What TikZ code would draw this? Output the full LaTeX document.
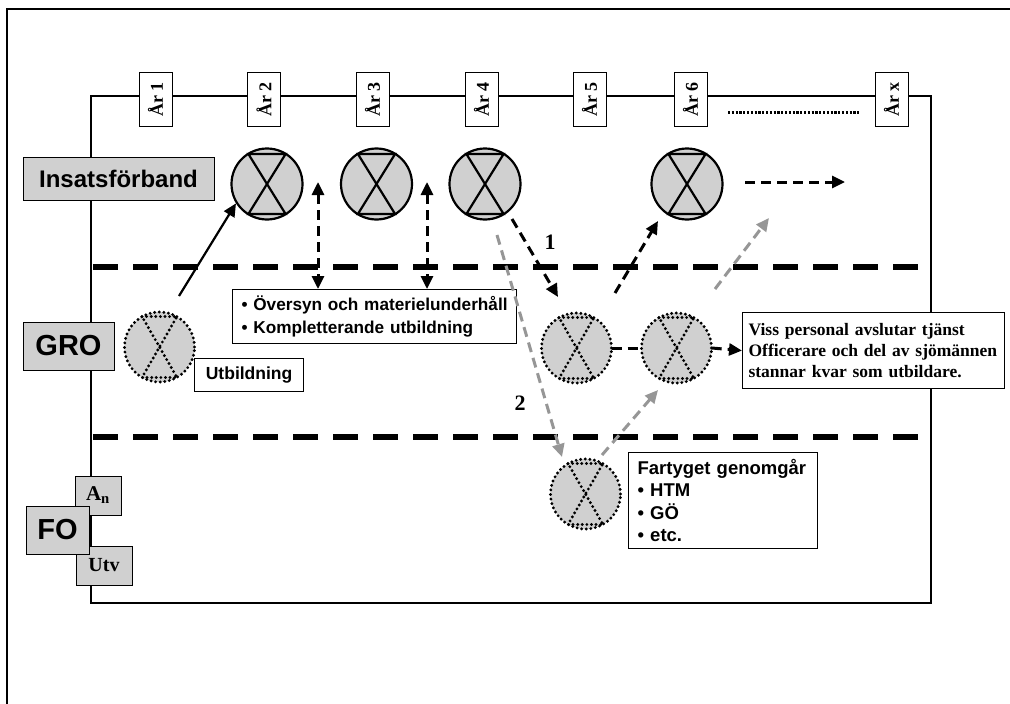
\documentclass[tikz,border=0pt]{standalone}
\usepackage{fontspec}
\setmainfont{Liberation Serif}
\setsansfont{Liberation Sans}
\usetikzlibrary{arrows.meta,calc}
\definecolor{fillg}{RGB}{208,208,208}
\definecolor{arrg}{RGB}{150,150,150}
\newcommand\hgsolid[1]{%
  \draw[line width=2.2pt] ($(#1.center)+(-18.6,-30)$) -- ($(#1.center)+(18.6,-30)$) -- ($(#1.center)+(-18.6,30)$) -- ($(#1.center)+(18.6,30)$) -- cycle;}
\newcommand\hgdot[1]{%
  \draw[dotline] ($(#1.center)+(-17.5,-30.5)$) -- ($(#1.center)+(17.5,-30.5)$) -- ($(#1.center)+(-17.5,30.5)$) -- ($(#1.center)+(17.5,30.5)$) -- cycle;}
\begin{document}
\begin{tikzpicture}[x=1pt,y=-1pt,
  yearbox/.style={draw,fill=white,line width=1pt,rotate=90,minimum width=54pt,minimum height=33pt,inner sep=0pt,font=\bfseries\fontsize{18}{18}\selectfont},
  lab/.style={draw,fill=fillg,line width=1pt,inner sep=0pt},
  txtbox/.style={draw,fill=white,line width=1.2pt,inner sep=0pt,align=left},
  solidc/.style={circle,draw,fill=fillg,line width=2.2pt,minimum size=71pt,inner sep=0pt},
  dotline/.style={line width=3.2pt,dash pattern=on 0pt off 4.6pt,line cap=round},
  dotc/.style={circle,fill=fillg,minimum size=70pt,inner sep=0pt},
  bdash/.style={line width=3pt,dash pattern=on 10pt off 6pt,-{Triangle[length=13pt,width=12pt]}},
  gdash/.style={draw=arrg,line width=3pt,dash pattern=on 10pt off 6pt,-{Triangle[length=13pt,width=12pt,fill=arrg]}},
  sep/.style={line width=6pt,dash pattern=on 25pt off 15pt},
  num/.style={font=\bfseries\fontsize{22}{22}\selectfont,inner sep=0pt}
]
\useasboundingbox (0,0) rectangle (1010,704);
% outer border
\draw[line width=2pt] (7,704) -- (7,9) -- (1010,9);
% inner frame
\draw[line width=1.3pt] (91,96) rectangle (931,603);
% year boxes
\node[yearbox] (y1) at (155.5,99.5) {År 1};
\node[yearbox] (y2) at (264,99.5) {År 2};
\node[yearbox] (y3) at (372.5,99.5) {År 3};
\node[yearbox] (y4) at (481.5,99.5) {År 4};
\node[yearbox] (y5) at (589.5,99.5) {År 5};
\node[yearbox] (y6) at (690.5,99.5) {År 6};
\node[yearbox] (yx) at (891.5,99.5) {År x};
\draw[line width=3pt,dash pattern=on 2.2pt off 1.6pt] (728,112) -- (860,112);
% separators
\draw[sep] (93,267) -- (931,267);
\draw[sep] (93,437) -- (931,437);
% left labels
\node[lab,minimum width=191pt,minimum height=43pt,font=\sffamily\bfseries\fontsize{24}{24}\selectfont] (ins) at (118.5,178.5) {Insatsförband};
\node[lab,minimum width=91pt,minimum height=48pt,font=\sffamily\bfseries\fontsize{29}{29}\selectfont] (gro) at (68.5,346) {GRO};
\node[lab,minimum width=46pt,minimum height=39pt,font=\bfseries\fontsize{21}{21}\selectfont] (an) at (98,495.5) {A\textsubscript{n}};
\node[lab,minimum width=56pt,minimum height=39pt,font=\bfseries\fontsize{20}{20}\selectfont] (utv) at (104,565.5) {Utv};
\node[lab,minimum width=63pt,minimum height=48pt,font=\sffamily\bfseries\fontsize{29}{29}\selectfont] (fo) at (57.5,530) {FO};
% solid circles
\node[solidc] (c2) at (267,184) {};
\node[solidc] (c3) at (376.5,184) {};
\node[solidc] (c4) at (485,184) {};
\node[solidc] (c6) at (687,184) {};
\hgsolid{c2}\hgsolid{c3}\hgsolid{c4}\hgsolid{c6}
% dotted circles
\node[dotc] (g1) at (159.5,347) {};
\node[dotc] (g5) at (576.5,348) {};
\node[dotc] (g6) at (676.5,348) {};
\node[dotc] (f5) at (585.5,494) {};
\foreach \n in {g1,g5,g6,f5}{
  \draw[dotline] (\n.center) circle (35pt);
  \hgdot{\n}
}
% text boxes
\node[txtbox,anchor=north west,minimum width=109pt,minimum height=33pt,align=center,font=\sffamily\bfseries\fontsize{17.5}{17.5}\selectfont] (utb) at (194,358) {Utbildning};
\node[txtbox,anchor=north west,minimum width=284pt,minimum height=54pt,text width=266pt,inner xsep=9pt,font=\sffamily\bfseries\fontsize{17.2}{23}\selectfont] (ovs) at (232,289) {\mbox{• Översyn och materielunderhåll}\\\mbox{• Kompletterande utbildning}};
\node[txtbox,anchor=north west,minimum width=189pt,minimum height=96pt,text width=171pt,inner xsep=9pt,font=\sffamily\bfseries\fontsize{18.5}{22.5}\selectfont] (fart) at (628,452) {\mbox{Fartyget genomgår}\\\mbox{• HTM}\\\mbox{• GÖ}\\\mbox{• etc.}};
\node[txtbox,anchor=north west,minimum width=262pt,minimum height=76pt,text width=250pt,inner xsep=6pt,font=\bfseries\fontsize{17.5}{21}\selectfont] (viss) at (742,312) {\mbox{Viss personal avslutar tjänst}\\\mbox{Officerare och del av sjömännen}\\\mbox{stannar kvar som utbildare.}};
% numbers
\node[num] (n1) at (550,242) {1};
\node[num] (n2) at (520,403) {2};
% coordinates of free ends
\coordinate (a1s) at (179,296);
\coordinate (v1t) at (318,182);
\coordinate (v2t) at (427,182);
\coordinate (d1s) at (512,219);
\coordinate (d1e) at (558,297);
\coordinate (d2s) at (615,293);
\coordinate (d2e) at (658,221);
\coordinate (e1s) at (497,235);
\coordinate (e1e) at (562,457);
\coordinate (e2s) at (602,455);
\coordinate (e2e) at (658,390);
\coordinate (e3s) at (715,289);
\coordinate (e3e) at (769,218);
\coordinate (h3s) at (745,182);
\coordinate (h3e) at (845,182);
% connectors
\draw[line width=2.2pt,-{Triangle[length=13pt,width=12pt]}] (a1s) -- (c2.212);
\draw[bdash,{Triangle[length=13pt,width=12pt]}-{Triangle[length=13pt,width=12pt]}] (v1t) -- (v1t |- ovs.north);
\draw[bdash,{Triangle[length=13pt,width=12pt]}-{Triangle[length=13pt,width=12pt]}] (v2t) -- (v2t |- ovs.north);
\draw[bdash] (d1s) -- (d1e);
\draw[bdash] (d2s) -- (d2e);
\draw[gdash] (e1s) -- (e1e);
\draw[gdash] (e2s) -- (e2e);
\draw[gdash] (e3s) -- (e3e);
\draw[line width=3pt,dash pattern=on 10pt off 6pt] (g5.east) -- (g6.west);
\draw[bdash] (g6.east) -- (viss.west);
\draw[bdash] (h3s) -- (h3e);
\end{tikzpicture}
\end{document}
